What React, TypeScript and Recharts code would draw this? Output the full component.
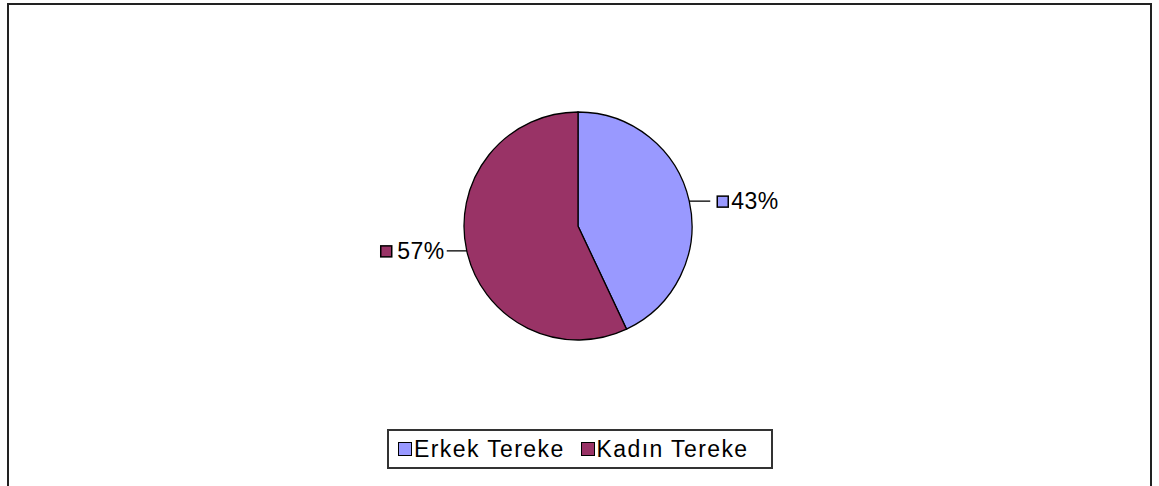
import { PieChart, Pie, Cell, Legend } from "recharts";

const categories = ["Erkek Tereke", "Kadın Tereke"];
const shares = [43, 57];
const colors = ["#9999FF", "#993366"];

const data = categories.map((name, i) => ({ name, value: shares[i] }));

const RADIAN = Math.PI / 180;
const FONT = '"Liberation Sans", Arial, sans-serif';

const renderLabel = (props: any) => {
  const { cx, cy, midAngle, outerRadius, percent, index } = props;
  const ex = cx + outerRadius * Math.cos(-midAngle * RADIAN);
  const ey = cy + outerRadius * Math.sin(-midAngle * RADIAN);
  const right = ex > cx;
  const text = `${Math.round(percent * 100)}%`;
  const lineEnd = right ? ex + 21 : ex - 20;
  const sqX = right ? ex + 28 : ex - 86;
  const textX = right ? ex + 42 : ex - 22;
  return (
    <g>
      <line x1={ex} y1={ey} x2={lineEnd} y2={ey} stroke="#000" strokeWidth={1.3} />
      <rect
        x={sqX}
        y={ey - 5}
        width={11}
        height={11}
        fill={colors[index]}
        stroke="#000"
        strokeWidth={1.5}
      />
      <text
        x={textX}
        y={ey + 8}
        textAnchor={right ? "start" : "end"}
        fontFamily={FONT}
        fontSize={23}
        letterSpacing={0.5}
        fill="#000"
      >
        {text}
      </text>
    </g>
  );
};

const LegendBox = () => (
  <div
    style={{
      display: "flex",
      alignItems: "center",
      width: 386,
      height: 40,
      boxSizing: "border-box",
      border: "2px solid #333",
      background: "#fff",
      paddingLeft: 9,
      fontFamily: FONT,
      fontSize: 23,
      letterSpacing: 1.4,
      color: "#000",
    }}
  >
    {categories.map((c, i) => (
      <div key={c} style={{ display: "flex", alignItems: "center", marginRight: 16 }}>
        <span
          style={{
            display: "inline-block",
            width: 12,
            height: 12,
            background: colors[i],
            border: "1.5px solid #000",
            marginRight: 2,
          }}
        />
        <span>{c}</span>
      </div>
    ))}
  </div>
);

export default function App() {
  return (
    <div
      style={{
        position: "absolute",
        left: 0,
        top: 0,
        width: 1159,
        height: 486,
        overflow: "hidden",
        background: "#fff",
      }}
    >
      <div
        style={{
          position: "absolute",
          left: 7,
          top: 3,
          width: 1145,
          height: 520,
          boxSizing: "border-box",
          border: "2px solid #222",
        }}
      />
      <PieChart
        width={1159}
        height={486}
        margin={{ top: 0, right: 0, bottom: 0, left: 0 }}
        style={{ position: "absolute", left: 0, top: 0 }}
      >
        <Pie
          data={data}
          dataKey="value"
          nameKey="name"
          cx={578}
          cy={226}
          outerRadius={114}
          startAngle={90}
          endAngle={-270}
          stroke="#000"
          strokeWidth={1.3}
          label={renderLabel}
          labelLine={false}
          isAnimationActive={false}
        >
          {data.map((d, i) => (
            <Cell key={d.name} fill={colors[i]} />
          ))}
        </Pie>
        <Legend
          content={<LegendBox />}
          wrapperStyle={{ position: "absolute", left: 387, top: 429, width: 386, bottom: "auto" }}
        />
      </PieChart>
    </div>
  );
}
